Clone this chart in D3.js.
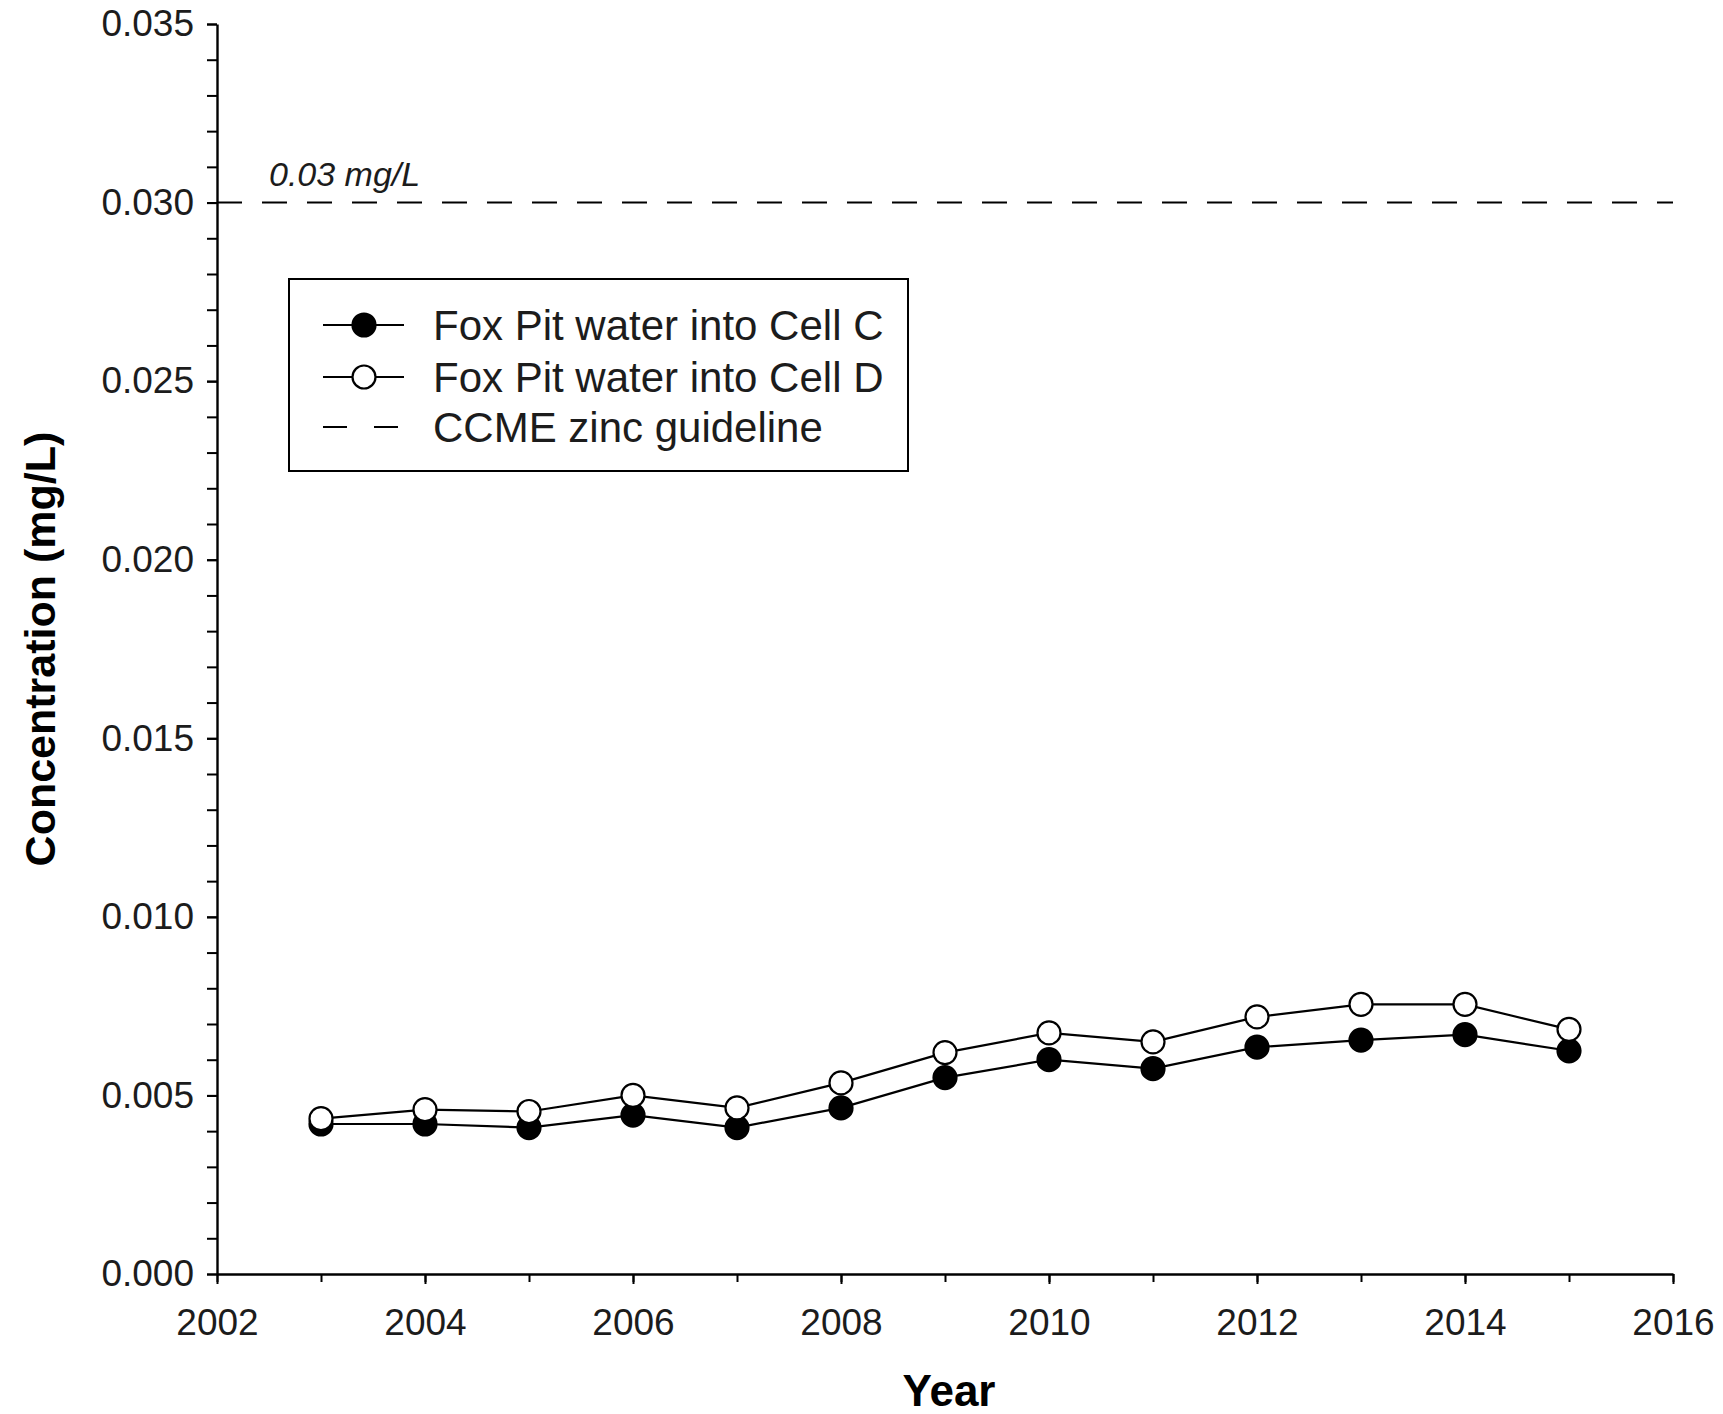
<!DOCTYPE html>
<html>
<head>
<meta charset="utf-8">
<script src="https://cdn.jsdelivr.net/npm/d3@7"></script>
<style>
  html, body { margin: 0; padding: 0; background: #fff; }
  svg { display: block; font-family: "Liberation Sans", Arial, sans-serif; }
</style>
</head>
<body>
<svg id="chart" width="1723" height="1414"></svg>
<script>
// Annual zinc concentrations (mg/L)
const years = [2003, 2004, 2005, 2006, 2007, 2008, 2009, 2010, 2011, 2012, 2013, 2014, 2015];
const cellC = [0.0042, 0.0042, 0.0041, 0.00445, 0.0041, 0.00465, 0.0055, 0.0060, 0.00575, 0.00635, 0.00655, 0.0067, 0.00625];
const cellD = [0.00435, 0.0046, 0.00455, 0.0050, 0.00465, 0.00535, 0.0062, 0.00675, 0.0065, 0.0072, 0.00755, 0.00755, 0.00685];
const guideline = 0.03;
const guidelineLabel = "0.03 mg/L";
const seriesNames = ["Fox Pit water into Cell C", "Fox Pit water into Cell D", "CCME zinc guideline"];
const xTicks = [2002, 2004, 2006, 2008, 2010, 2012, 2014, 2016];
const xMinorTicks = d3.range(2002, 2017, 1);
const yTicks = [0, 0.005, 0.010, 0.015, 0.020, 0.025, 0.030, 0.035];
const yMinorTicks = d3.range(0, 36, 1).map(d => d / 1000);

const svg = d3.select("#chart");
const plotLeft = 217, plotRight = 1673, plotTop = 24, plotBottom = 1274;

const x = d3.scaleLinear().domain([2002, 2016]).range([plotLeft, plotRight]);
const y = d3.scaleLinear().domain([0, 0.035]).range([plotBottom, plotTop]);

const tickFont = 37;

// minor ticks
svg.append("g").attr("transform", `translate(${plotLeft},0)`)
  .call(d3.axisLeft(y).tickValues(yMinorTicks).tickSize(10).tickFormat(""))
  .call(g => g.select(".domain").remove())
  .call(g => g.selectAll("line").attr("stroke", "#000").attr("stroke-width", 2));
svg.append("g").attr("transform", `translate(0,${plotBottom})`)
  .call(d3.axisBottom(x).tickValues(xMinorTicks).tickSize(8).tickFormat(""))
  .call(g => g.select(".domain").remove())
  .call(g => g.selectAll("line").attr("stroke", "#000").attr("stroke-width", 2));

// major axes
const yAxis = svg.append("g").attr("transform", `translate(${plotLeft},0)`)
  .call(d3.axisLeft(y).tickValues(yTicks).tickSize(10).tickSizeOuter(0).tickPadding(13).tickFormat(d3.format(".3f")));
const xAxis = svg.append("g").attr("transform", `translate(0,${plotBottom})`)
  .call(d3.axisBottom(x).tickValues(xTicks).tickSize(10).tickSizeOuter(0).tickPadding(25).tickFormat(d3.format("d")));

[yAxis, xAxis].forEach(g => {
  g.select(".domain").attr("stroke", "#000").attr("stroke-width", 2.4);
  g.selectAll(".tick line").attr("stroke", "#000").attr("stroke-width", 2);
  g.selectAll(".tick text").attr("fill", "#1c1c1c")
    .style("font-family", '"Liberation Sans", Arial, sans-serif')
    .style("font-size", tickFont + "px");
});

// guideline
svg.append("line")
  .attr("x1", x(2002)).attr("x2", x(2016))
  .attr("y1", y(guideline)).attr("y2", y(guideline))
  .attr("stroke", "#000").attr("stroke-width", 2)
  .attr("stroke-dasharray", "25,20");
svg.append("text")
  .attr("x", 269).attr("y", y(guideline) - 17)
  .attr("font-size", 34).attr("font-style", "italic").attr("fill", "#1c1c1c")
  .text(guidelineLabel);

// series
const line = d3.line().x((d, i) => x(years[i])).y(d => y(d));
const r = 11.5;

function drawSeries(values, fill) {
  svg.append("path").datum(values)
    .attr("d", line).attr("fill", "none")
    .attr("stroke", "#000").attr("stroke-width", 2.2);
  svg.append("g").selectAll("circle").data(values).join("circle")
    .attr("cx", (d, i) => x(years[i])).attr("cy", d => y(d))
    .attr("r", r).attr("fill", fill)
    .attr("stroke", "#000").attr("stroke-width", 2.2);
}
drawSeries(cellC, "#000");
drawSeries(cellD, "#fff");

// legend
const lg = svg.append("g");
lg.append("rect").attr("x", 289).attr("y", 279).attr("width", 619).attr("height", 192)
  .attr("fill", "#fff").attr("stroke", "#000").attr("stroke-width", 2);
const rows = [325, 377, 427];
const fills = ["#000", "#fff", null];
rows.forEach((ry, i) => {
  if (fills[i] !== null) {
    lg.append("line").attr("x1", 323).attr("x2", 404).attr("y1", ry).attr("y2", ry)
      .attr("stroke", "#000").attr("stroke-width", 2.2);
    lg.append("circle").attr("cx", 364).attr("cy", ry).attr("r", r)
      .attr("fill", fills[i]).attr("stroke", "#000").attr("stroke-width", 2.2);
  } else {
    lg.append("line").attr("x1", 323).attr("x2", 398).attr("y1", ry).attr("y2", ry)
      .attr("stroke", "#000").attr("stroke-width", 2)
      .attr("stroke-dasharray", "24,27");
  }
  lg.append("text").attr("x", 433).attr("y", ry + 15)
    .attr("font-size", 42).attr("fill", "#1c1c1c")
    .text(seriesNames[i]);
});

// axis titles
svg.append("text")
  .attr("transform", `translate(55,${(plotTop + plotBottom) / 2}) rotate(-90)`)
  .attr("text-anchor", "middle").attr("font-size", 43).attr("font-weight", "bold")
  .text("Concentration (mg/L)");
svg.append("text")
  .attr("x", 949).attr("y", 1406)
  .attr("text-anchor", "middle").attr("font-size", 44).attr("font-weight", "bold")
  .text("Year");
</script>
</body>
</html>
